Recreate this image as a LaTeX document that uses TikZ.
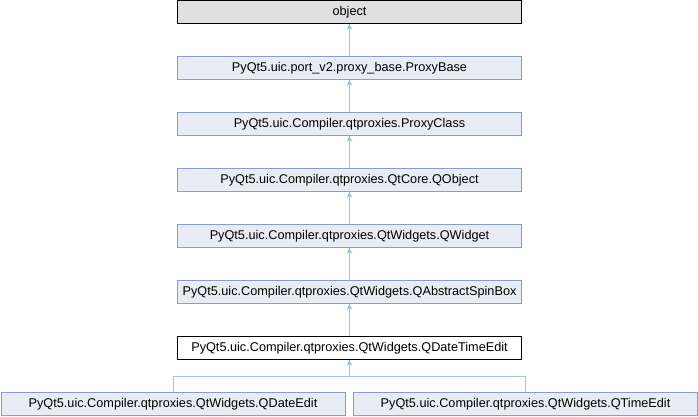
\documentclass[tikz,border=0pt]{standalone}
\usepackage{fontspec}
\setmainfont{Liberation Sans}
\usetikzlibrary{arrows.meta}
\definecolor{boxfill}{HTML}{E8ECF5}
\definecolor{boxline}{HTML}{8A9CCF}
\definecolor{edgecol}{HTML}{9CC8E6}
\definecolor{objfill}{HTML}{E0E0E0}
\tikzset{
  cls/.style={draw=boxline, fill=boxfill, line width=0.9pt, minimum width=344pt, minimum height=23pt, inner sep=0pt, font=\fontsize{12.7}{14}\selectfont},
  objbox/.style={cls, draw=black, fill=objfill},
  curbox/.style={cls, draw=black, fill=white},
  inh/.style={draw=edgecol, line width=0.9pt, -{Triangle[length=5pt, width=5pt]}},
}
\begin{document}
\begin{tikzpicture}[x=1pt,y=-1pt]
\useasboundingbox (0,0) rectangle (698,416);
\node[objbox] (obj) at (349.5,12) {object};
\node[cls] (pb) at (349.5,68) {PyQt5.uic.port\_v2.proxy\_base.ProxyBase};
\node[cls] (pc) at (349.5,124) {PyQt5.uic.Compiler.qtproxies.ProxyClass};
\node[cls] (qo) at (349.5,180) {PyQt5.uic.Compiler.qtproxies.QtCore.QObject};
\node[cls] (qw) at (349.5,236) {PyQt5.uic.Compiler.qtproxies.QtWidgets.QWidget};
\node[cls] (qa) at (349.5,292) {PyQt5.uic.Compiler.qtproxies.QtWidgets.QAbstractSpinBox};
\node[curbox] (qdt) at (349.5,348) {PyQt5.uic.Compiler.qtproxies.QtWidgets.QDateTimeEdit};
\node[cls] (qd) at (173,404) {PyQt5.uic.Compiler.qtproxies.QtWidgets.QDateEdit};
\node[cls] (qt) at (525.5,404) {PyQt5.uic.Compiler.qtproxies.QtWidgets.QTimeEdit};
\coordinate (br) at (349.5,376.5);
\draw[inh] (pb) -- (obj);
\draw[inh] (pc) -- (pb);
\draw[inh] (qo) -- (pc);
\draw[inh] (qw) -- (qo);
\draw[inh] (qa) -- (qw);
\draw[inh] (qdt) -- (qa);
\draw[inh] (qd.north) |- (br) -- (qdt.south);
\draw[draw=edgecol, line width=0.9pt] (qt.north) |- (br);
\end{tikzpicture}
\end{document}
